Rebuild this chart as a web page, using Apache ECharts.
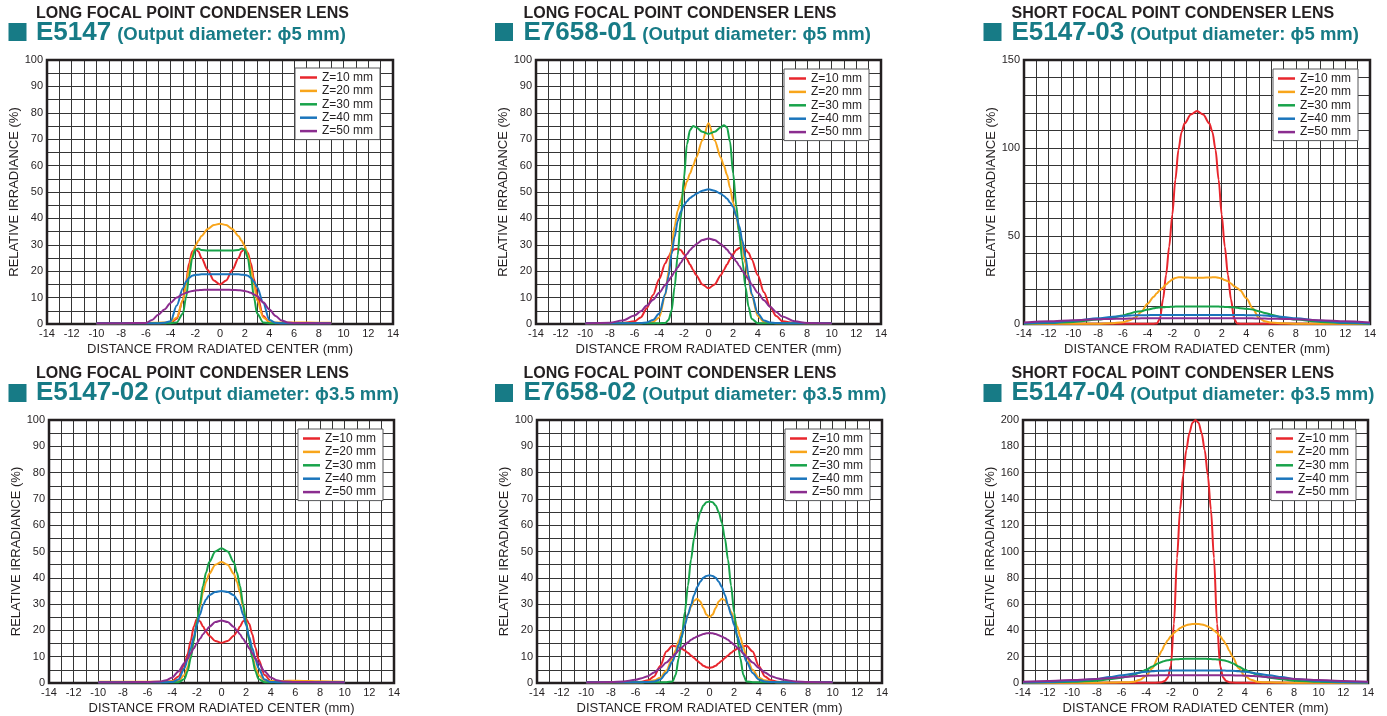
<!DOCTYPE html>
<html><head><meta charset="utf-8">
<script src="https://cdn.jsdelivr.net/npm/echarts@6/dist/echarts.min.js"></script>
<style>html,body{margin:0;padding:0;background:#fff}#c{width:1387px;height:716px}</style>
</head><body><div id="c"></div>
<script>
// ---------------- DATA ----------------
const SERIES_NAMES = ['Z=10 mm', 'Z=20 mm', 'Z=30 mm', 'Z=40 mm', 'Z=50 mm'];
const KINDS = ['LONG FOCAL POINT CONDENSER LENS', 'LONG FOCAL POINT CONDENSER LENS', 'SHORT FOCAL POINT CONDENSER LENS',
               'LONG FOCAL POINT CONDENSER LENS', 'LONG FOCAL POINT CONDENSER LENS', 'SHORT FOCAL POINT CONDENSER LENS'];
const MODELS = ['E5147', 'E7658-01', 'E5147-03', 'E5147-02', 'E7658-02', 'E5147-04'];
const DIAMETERS = ['5', '5', '5', '3.5', '3.5', '3.5'];
const X_TICKS = [-14, 14, 2];
const Y_MAX = [100, 100, 150, 100, 100, 200];
const Y_STEP = [10, 10, 50, 10, 10, 20];
const Y_SUB = [2, 2, 5, 2, 2, 2];

// Panel 1: E5147
const X1 = [-10,-8,-6,-5.5,-5,-4.5,-4,-3.5,-3,-2.75,-2.5,-2.25,-2,-1.75,-1.5,-1,-0.5,0,0.5,1,1.5,1.75,2,2.25,2.5,2.75,3,3.5,4,4.5,5,5.5,6,8,9];
const R1 = [0.3,0.3,0.3,0.3,0.3,0.3,0.5,2,9,16,23,27.5,28.5,27.5,25,20.5,16.5,15,16.5,20.5,25,27.5,28.5,27,23,17,11,3,0.6,0.3,0.3,0.3,0.3,0.3,0.3];
const O1 = [0.3,0.3,0.4,0.5,0.5,0.6,0.8,2.5,9,15,21,26,29.5,31.5,33.3,36,37.5,38,37.5,36,33.3,31.5,29.5,26,21,15,9,2.5,0.8,0.6,0.6,0.6,0.6,0.5,0.5];
const G1 = [0.3,0.3,0.3,0.3,0.3,0.3,0.3,0.6,4,10,18,25,28.2,28.6,28,27.8,27.8,27.8,27.8,27.8,28,28.6,28.2,25,18,10,4,0.6,0.3,0.3,0.3,0.3,0.3,0.3,0.3];
const B1 = [0.3,0.3,0.3,0.3,0.3,0.5,1,7,13.5,16,17.5,18.3,18.6,18.7,18.8,18.8,18.8,18.8,18.8,18.8,18.8,18.7,18.6,18.3,17.5,16,14,8,1.5,0.5,0.3,0.3,0.3,0.3,0.3];
const P1 = [0.3,0.3,0.4,1.5,3.5,5.5,8,10,11.3,11.8,12.2,12.5,12.7,12.8,12.9,13,13,13,13,12.9,12.8,12.7,12.5,12.2,11.8,11.2,10.5,8.2,5.5,3,1.3,0.6,0.4,0.3,0.3];

// Panel 2: E7658-01
const X2 = [-10,-8,-7,-6,-5.5,-5,-4.5,-4,-3.5,-3.25,-3,-2.75,-2.5,-2.25,-2,-1.75,-1.5,-1.25,-1,-0.5,0,0.5,1,1.25,1.5,1.75,2,2.25,2.5,2.75,3,3.25,3.5,4,4.5,5,5.5,6,7,8,10];
const R2 = [0.3,0.3,0.4,1,2.5,6,11,17,23,25.5,27.5,28.3,28.5,28,26.5,24.5,22.5,20.5,18.5,15,13.5,15,18.5,20.5,22.5,24.5,26.5,28,28.8,29,28.3,27,24.5,18.5,12,6.5,3,1,0.4,0.3,0.3];
const O2 = [0.3,0.3,0.3,0.3,0.3,0.4,0.8,2.5,11,20,29,37,43,47,50.5,54,57,60,63,69.5,76,69.5,63,60,56.5,51.5,46,40.5,35,29,23,17,11,3,0.8,0.4,0.3,0.3,0.3,0.3,0.3];
const G2 = [0.3,0.3,0.3,0.3,0.3,0.3,0.3,0.3,0.4,1.5,5,14,26,40,55,68,73.5,75,74.5,72.8,72,72.8,74.5,75.3,74.5,69,57,45,34,24,14,6.5,2,0.3,0.3,0.3,0.3,0.3,0.3,0.3,0.3];
const B2 = [0.3,0.3,0.3,0.3,0.4,0.6,1.5,4,11.5,18,26.5,33,39,42.5,45,46.5,47.7,48.5,49.3,50.5,51,50.5,49.3,48.5,47.5,46,44.3,41,37,31.5,25.5,18.5,11.5,4,1.3,0.6,0.4,0.3,0.3,0.3,0.3];
const P2 = [0.3,0.5,1.3,3.2,4.8,7,9.2,11.8,14.8,16.3,18,19.8,21.5,23.2,25,26.5,28,29.2,30.2,31.8,32.4,31.8,30.3,29.3,28.2,26.8,25.3,23.7,22,20.2,18.5,16.8,15,11.8,9,6.5,4.5,2.8,1,0.4,0.3];

// Panel 3: E5147-03
const X3 = [-14,-12,-10,-8,-7,-6,-5.5,-5,-4.5,-4,-3.5,-3.25,-3,-2.75,-2.5,-2.25,-2,-1.75,-1.5,-1.25,-1,-0.5,0,0.5,1,1.25,1.5,1.75,2,2.25,2.5,2.75,3,3.25,3.5,4,4.5,5,5.5,6,7,8,10,12,14];
const R3 = [0.2,0.2,0.2,0.2,0.2,0.2,0.2,0.2,0.2,0.2,0.2,0.3,3,14,28,44,62,82,99,109,114,119,121,119,114,109,99,82,62,44,28,14,3,0.3,0.2,0.2,0.2,0.2,0.2,0.2,0.2,0.2,0.2,0.2,0.2];
const O3 = [0.1,0.1,0.1,0.2,0.4,1,2,3.5,7,11.5,15.5,17.5,19.2,20.8,22.5,24,25.3,26.2,26.5,26.5,26.4,26.3,26.3,26.3,26.4,26.5,26.5,26.3,25.8,25,24.3,23,21.5,20.5,19,14.6,9,3.5,1.5,0.8,0.4,0.2,0.1,0.1,0.1];
const G3 = [0.2,0.5,1.2,2.5,3.5,4.8,5.8,6.8,7.3,8.2,8.9,9.2,9.4,9.5,9.6,9.7,9.8,9.9,9.9,10,10,10,10,10,10,10,9.9,9.9,9.8,9.7,9.6,9.5,9.4,9.2,9,8.7,8.2,7.2,6.3,5.3,3.5,2.5,1.2,0.5,0.2];
const B3 = [0.3,0.8,1.8,3.2,4,4.5,4.8,5,5,5,5.1,5.1,5.1,5.1,5.1,5.1,5.1,5.1,5.1,5.1,5.1,5.1,5.1,5.1,5.1,5.1,5.1,5.1,5.1,5.1,5.1,5.1,5.1,5.1,5.1,5,5,5,4.8,4.5,4,3.2,1.8,0.8,0.3];
const P3 = [0.8,1.6,2.2,2.7,2.9,3,3.1,3.1,3.2,3.2,3.2,3.2,3.2,3.2,3.2,3.2,3.2,3.2,3.2,3.2,3.2,3.2,3.2,3.2,3.2,3.2,3.2,3.2,3.2,3.2,3.2,3.2,3.2,3.2,3.2,3.2,3.2,3.1,3.1,3,2.9,2.7,2.2,1.6,0.8];

// Panel 4: E5147-02
const X4 = [-10,-8,-6,-5,-4.5,-4,-3.5,-3,-2.75,-2.5,-2.25,-2,-1.75,-1.5,-1.25,-1,-0.5,0,0.5,1,1.25,1.5,1.75,2,2.25,2.5,2.75,3,3.5,4,4.5,5,6,8,10];
const R4 = [0.3,0.3,0.3,0.3,0.4,0.8,2.5,7,11,16,21.5,24.3,23.5,21.5,19.5,18,16,15.3,16,18,19.5,21.5,23.5,24.3,22.5,18.5,13.5,9,3,0.8,0.4,0.3,0.3,0.3,0.3];
const O4 = [0.5,0.5,0.5,0.5,0.5,0.7,0.9,3,6,10.5,16.5,23,29,34.5,38.5,41.5,45,46,45,41.5,38.5,34.5,29,23,16.5,10.5,6,3,1,0.8,0.8,0.8,0.9,0.7,0.5];
const G4 = [0.3,0.3,0.3,0.3,0.3,0.3,0.3,1.5,4.5,9.4,16,23,30,37,42,46,50,51.2,50,46,42,37,30,23,16,9.4,4.5,1.5,0.3,0.3,0.3,0.3,0.3,0.3,0.3];
const B4 = [0.3,0.3,0.3,0.3,0.3,0.4,1.3,5.7,9,13.2,17.5,22,26,29.6,31.8,33.4,34.6,35,34.6,33.4,31.8,29.6,26,22,17.5,13.2,9,5.7,1.3,0.4,0.3,0.3,0.3,0.3,0.3];
const P4 = [0.3,0.3,0.4,0.6,1,2.1,4.4,7.6,9.4,11.3,13.2,15.1,16.8,18.5,20,21.3,23.2,23.8,23.2,21.3,20,18.5,16.8,15.1,13.2,11.3,9.4,7.6,4.4,2.1,1,0.6,0.4,0.3,0.3];

// Panel 5: E7658-02
const X5 = [-10,-8,-7,-6,-5.5,-5,-4.5,-4,-3.5,-3,-2.75,-2.5,-2.25,-2,-1.75,-1.5,-1.25,-1,-0.75,-0.5,-0.25,0,0.25,0.5,0.75,1,1.25,1.5,1.75,2,2.25,2.5,2.75,3,3.5,4,4.5,5,5.5,6,7,8,10];
const R5 = [0.3,0.3,0.3,0.3,0.5,1,2.5,6.5,12,14.2,14,13.5,13,12.4,11.5,10.5,9.5,8.5,7.5,6.6,6,5.8,6,6.6,7.5,8.5,9.5,10.5,11.5,12.4,13,13.5,14,14.2,12,6.5,2.5,1,0.5,0.3,0.3,0.3,0.3];
const O5 = [0.3,0.3,0.3,0.3,0.3,0.5,1,2,4.8,9.5,12.5,16,19.5,23,26,29,31.3,32,31,28.5,26,25,26,28.5,31,32,31.5,29.5,27,24.5,21.5,17.5,13.5,10,5,2,1,0.5,0.3,0.3,0.3,0.3,0.3];
const G5 = [0.3,0.3,0.3,0.3,0.3,0.3,0.3,0.3,0.3,0.6,3,9.4,17,27,37,47,55,61,65,67.5,68.7,69,68.7,67.5,65,61,55,47,37,27,17,9.4,3,0.6,0.3,0.3,0.3,0.3,0.3,0.3,0.3,0.3,0.3];
const B5 = [0.3,0.3,0.3,0.3,0.3,0.4,0.6,1.3,3.8,8.2,11,14.5,18,22,26,29.6,33.5,36.5,38.5,40,40.7,41,40.7,40,38.5,36.5,33.5,29.6,26,22,18,14.5,11,8.2,3.8,1.3,0.6,0.4,0.3,0.3,0.3,0.3,0.3];
const P5 = [0.3,0.4,0.6,1.2,1.8,2.6,4,5.7,7.8,10,11.2,12.4,13.5,14.5,15.5,16.4,17.1,17.7,18.2,18.6,18.9,19,18.9,18.6,18.2,17.7,17.1,16.4,15.5,14.5,13.5,12.4,11.2,10,7.8,5.7,4,2.6,1.8,1.2,0.6,0.4,0.3];

// Panel 6: E5147-04
const X6 = [-14,-12,-10,-8,-7,-6,-5.5,-5,-4.5,-4,-3.5,-3,-2.75,-2.5,-2.25,-2,-1.75,-1.5,-1.25,-1,-0.75,-0.5,-0.25,0,0.25,0.5,0.75,1,1.25,1.5,1.75,2,2.25,2.5,2.75,3,3.5,4,4.5,5,5.5,6,7,8,10,12,14];
const R6 = [0.2,0.2,0.2,0.2,0.2,0.2,0.2,0.2,0.2,0.2,0.2,0.3,0.6,1.5,4,13,45,95,132,158,177,190,198,200,198,190,177,158,132,95,45,13,4,1.5,0.6,0.3,0.2,0.2,0.2,0.2,0.2,0.2,0.2,0.2,0.2,0.2,0.2];
const O6 = [0.1,0.1,0.1,0.2,0.3,0.5,0.6,0.9,2.5,5.5,11.3,20,24.5,29,32.5,35.5,38,40,41.8,43,44,44.5,44.8,45,44.8,44.5,44,43,41.8,40,38,35.5,32.5,29,24.5,20,11.3,5.5,2.5,0.9,0.6,0.5,0.3,0.2,0.1,0.1,0.1];
const G6 = [0.3,0.6,1,1.8,2.8,4,5,6.5,8,10,12.6,15,16,16.8,17.3,17.7,17.9,18.1,18.2,18.3,18.4,18.4,18.4,18.4,18.4,18.4,18.4,18.3,18.2,18.1,17.9,17.7,17.3,16.8,16,15,12.6,10,8,6.5,5,4,2.8,1.8,1,0.6,0.3];
const B6 = [0.3,0.8,1.5,3,4.5,5.8,6.5,7.2,8,8.6,9,9.3,9.4,9.4,9.5,9.5,9.5,9.5,9.5,9.5,9.5,9.5,9.5,9.5,9.5,9.5,9.5,9.5,9.5,9.5,9.5,9.5,9.5,9.4,9.4,9.3,9,8.6,8,7.2,6.5,5.8,4.5,3,1.5,0.8,0.3];
const P6 = [1,1.5,2.2,3.1,3.7,4.4,4.8,5.1,5.4,5.6,5.7,5.8,5.8,5.8,5.8,5.8,5.8,5.8,5.8,5.8,5.8,5.8,5.8,5.8,5.8,5.8,5.8,5.8,5.8,5.8,5.8,5.8,5.8,5.8,5.8,5.8,5.7,5.6,5.4,5.1,4.8,4.4,3.7,3.1,2.2,1.5,1];

const PANEL_X = [X1, X2, X3, X4, X5, X6];
const PANEL_Y = [[R1,O1,G1,B1,P1],[R2,O2,G2,B2,P2],[R3,O3,G3,B3,P3],[R4,O4,G4,B4,P4],[R5,O5,G5,B5,P5],[R6,O6,G6,B6,P6]];

// ---------------- LAYOUT & STYLE ----------------
const FONT = '"Liberation Sans", Arial, Helvetica, sans-serif';
const TEAL = '#177b86';
const INK = '#231f20';
const GRIDC = '#353535';
const COLORS = ['#e8262d', '#f8a51b', '#18a34a', '#1b75bc', '#8b2d8f'];
const GRIDS = [
  {left: 47, top: 60, width: 346, height: 264},
  {left: 536, top: 60, width: 345, height: 264},
  {left: 1024, top: 60, width: 346, height: 264},
  {left: 49, top: 420, width: 345, height: 265},
  {left: 537, top: 420, width: 345, height: 265},
  {left: 1023, top: 420, width: 345, height: 265}
];
const LEGEND_POS = [[295, 68], [784, 69], [1273, 69], [298, 429], [785, 429], [1271, 429]];
const COLS = [{sq: 8.5, tx: 36}, {sq: 495, tx: 523.5}, {sq: 983.5, tx: 1011.5}];
const ROWS = [{l1: 13.6, sq: 23, base: 41.8}, {l1: 373.6, sq: 384, base: 401.8}];

const mctx = document.createElement('canvas').getContext('2d');
function textW(t, font) { mctx.font = font; return mctx.measureText(t).width; }

const grid = [], xAxis = [], yAxis = [], series = [], legend = [], graphic = [];
for (let p = 0; p < 6; p++) {
  grid.push(Object.assign({show: true, z: 1, backgroundColor: 'transparent', borderColor: INK, borderWidth: 2.5, containLabel: false}, GRIDS[p]));
  xAxis.push({
    gridIndex: p, type: 'value', min: X_TICKS[0], max: X_TICKS[1], interval: X_TICKS[2],
    axisLine: {show: false}, axisTick: {show: false},
    axisLabel: {fontSize: 11, color: INK, fontFamily: FONT, margin: 4},
    splitLine: {show: true, lineStyle: {color: GRIDC, width: 1}},
    minorTick: {show: false, splitNumber: 2},
    minorSplitLine: {show: true, lineStyle: {color: GRIDC, width: 1}},
    name: 'DISTANCE FROM RADIATED CENTER (mm)', nameLocation: 'middle', nameGap: 19,
    nameTextStyle: {fontSize: 13, color: INK, fontFamily: FONT}
  });
  yAxis.push({
    gridIndex: p, type: 'value', min: 0, max: Y_MAX[p], interval: Y_STEP[p],
    axisLine: {show: false}, axisTick: {show: false},
    axisLabel: {fontSize: 11, color: INK, fontFamily: FONT, margin: 4},
    splitLine: {show: true, lineStyle: {color: GRIDC, width: 1}},
    minorTick: {show: false, splitNumber: Y_SUB[p]},
    minorSplitLine: {show: true, lineStyle: {color: GRIDC, width: 1}},
    name: 'RELATIVE IRRADIANCE (%)', nameLocation: 'middle', nameGap: 22,
    nameTextStyle: {fontSize: 13, color: INK, fontFamily: FONT}
  });
  for (let s = 0; s < 5; s++) {
    const xs = PANEL_X[p], ys = PANEL_Y[p][s];
    series.push({
      name: SERIES_NAMES[s], type: 'line', xAxisIndex: p, yAxisIndex: p,
      data: xs.map((x, i) => [x, ys[i]]),
      showSymbol: false, symbol: 'none', smooth: 0.3, smoothMonotone: 'x',
      lineStyle: {color: COLORS[s], width: 2}, itemStyle: {color: COLORS[s]},
      animation: false, z: 2
    });
  }
  legend.push({
    data: SERIES_NAMES, orient: 'vertical', left: LEGEND_POS[p][0], top: LEGEND_POS[p][1],
    icon: 'rect', itemWidth: 17, itemHeight: 2.5, itemGap: 0.4,
    padding: [3, 7, 2, 5], backgroundColor: '#fff', borderColor: '#58595b', borderWidth: 1,
    textStyle: {fontSize: 12, color: INK, fontFamily: FONT, lineHeight: 13},
    selectedMode: false
  });
  // Header
  const col = COLS[p % 3], row = ROWS[Math.floor(p / 3)];
  graphic.push({type: 'rect', shape: {x: col.sq, y: row.sq, width: 18, height: 18}, style: {fill: TEAL}});
  graphic.push({type: 'text', style: {text: KINDS[p], x: col.tx, y: row.l1, font: 'bold 16px ' + FONT, fill: INK,
    textAlign: 'left', align: 'left', textVerticalAlign: 'middle', verticalAlign: 'middle'}});
  const bigFont = 'bold 26px ' + FONT, smallFont = 'bold 18.5px ' + FONT;
  graphic.push({type: 'text', style: {text: MODELS[p], x: col.tx, y: row.base - 0.358 * 26, font: bigFont, fill: TEAL,
    textAlign: 'left', align: 'left', textVerticalAlign: 'middle', verticalAlign: 'middle'}});
  const w = textW(MODELS[p], bigFont);
  graphic.push({type: 'text', style: {text: '(Output diameter: \u03D5' + DIAMETERS[p] + ' mm)', x: col.tx + w + 6, y: row.base - 0.358 * 18.5,
    font: smallFont, fill: TEAL, textAlign: 'left', align: 'left', textVerticalAlign: 'middle', verticalAlign: 'middle'}});
}

const chart = echarts.init(document.getElementById('c'), null, {renderer: 'canvas'});
chart.setOption({animation: false, backgroundColor: '#fff', grid, xAxis, yAxis, series, legend, graphic});
</script></body></html>
